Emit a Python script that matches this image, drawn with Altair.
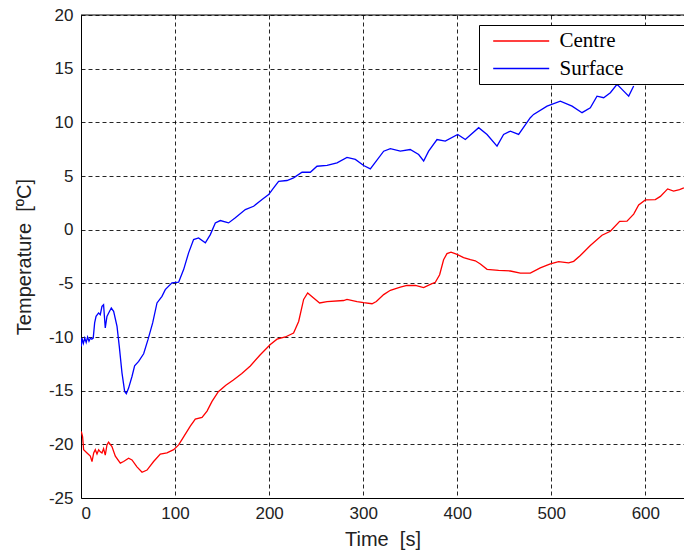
import altair as alt
import pandas as pd

# ---- data ----
t_centre = [0.3, 1.7, 2.8, 6.4, 9.9, 11.7, 13.5, 15.2, 17, 18.8, 20.5, 22.3, 24, 25.8, 27.6, 29.3,
            32.9, 36.5, 41.8, 45.3, 50.6, 54.2, 59.5, 64.9, 70.2, 77.2, 84.3, 91.4, 98.5, 103.8,
            109.1, 116.2, 121.5, 128.7, 134, 139.3, 146, 154, 162, 171, 180, 190.6, 201.3, 208.4,
            217.2, 226, 231.4, 236.7, 241, 247.3, 253.7, 261.6, 279.2, 282.8, 293.5, 300.5, 309.4,
            314, 321.8, 328.9, 339.5, 346.6, 355.5, 364.3, 371.4, 376.7, 381.3, 385.5, 389.1, 393.4,
            399.8, 406.8, 414, 419.2, 424.6, 431.7, 444, 456.5, 467.1, 477.7, 488.3, 499, 507.8,
            518.4, 523.8, 530.9, 541.5, 553.9, 562.8, 572.7, 580.5, 587.6, 592.9, 600, 610.6, 616,
            623.7, 630, 636.4, 641]
v_centre = [-18.8, -19.3, -20.5, -20.8, -21.1, -21.6, -20.8, -20.5, -20.9, -20.5, -20.7, -20.8,
            -20.4, -21.0, -20.05, -19.8, -20.2, -21.1, -21.75, -21.6, -21.3, -21.45, -22.1, -22.6,
            -22.4, -21.6, -20.9, -20.8, -20.5, -20.05, -19.3, -18.3, -17.65, -17.5, -16.9, -16.0,
            -15.1, -14.5, -14.0, -13.4, -12.7, -11.65, -10.7, -10.2, -10.0, -9.63, -8.55, -6.5,
            -5.9, -6.37, -6.83, -6.7, -6.6, -6.5, -6.7, -6.8, -6.9, -6.7, -6.05, -5.65, -5.35, -5.2,
            -5.2, -5.4, -5.1, -4.9, -4.2, -2.8, -2.23, -2.1, -2.3, -2.6, -2.8, -2.9, -3.2, -3.7,
            -3.8, -3.85, -4.05, -4.05, -3.56, -3.18, -2.97, -3.1, -2.95, -2.4, -1.48, -0.52, -0.15,
            0.78, 0.8, 1.45, 2.3, 2.77, 2.8, 3.1, 3.8, 3.6, 3.74, 3.9]

t_surface = [0.3, 1, 2.5, 4, 5.5, 7, 8.5, 10, 11.5, 13, 14.5, 16, 18.7, 20.5, 22.3, 24, 25.8, 27.6,
             29.4, 32.2, 34.7, 38.3, 40.7, 43.6, 46.4, 48.2, 50.6, 54.2, 57, 61.3, 66.6, 71.2,
             76.2, 80.8, 86.1, 89.6, 96.7, 103.8, 109.1, 114.4, 119.7, 125, 132.2, 137.5, 142.8,
             148.1, 156.9, 164.1, 174.7, 183.5, 192.5, 199.5, 204.8, 210.1, 219, 226, 235, 243.8,
             250.9, 261.6, 272.2, 282.8, 291.7, 300.5, 307.6, 321.8, 328.9, 339.5, 350, 359, 364.3,
             369.6, 378.5, 387.3, 400.5, 408.6, 422.8, 431.7, 442.3, 449.3, 456.5, 465.3, 477.7,
             481.2, 495.5, 509.6, 522.1, 532.7, 541.5, 548.6, 555.7, 562.8, 569.9, 575.2, 582.3,
             587.6]
v_surface = [-10.88, -10.09, -10.6, -10.1, -10.5, -10.0, -10.4, -10.1, -10.2, -10.1, -8.69, -8.08,
             -7.76, -7.92, -7.15, -6.99, -9.16, -8.08, -7.76, -7.3, -7.61, -9.01, -10.88, -13.36,
             -15.07, -15.29, -14.76, -13.68, -12.68, -12.28, -11.56, -10.25, -8.69, -6.83, -6.21,
             -5.59, -4.96, -4.9, -3.72, -2.16, -0.92, -0.77, -1.23, -0.46, 0.63, 0.85, 0.63, 1.1,
             1.87, 2.18, 2.81, 3.27, 3.9, 4.51, 4.58, 4.83, 5.35, 5.35, 5.91, 5.98, 6.23, 6.73,
             6.54, 5.98, 5.67, 7.31, 7.54, 7.31, 7.47, 7.0, 6.4, 7.31, 8.4, 8.25, 8.87, 8.4, 9.5,
             8.87, 7.78, 8.87, 9.18, 8.87, 10.43, 10.74, 11.51, 11.98, 11.51, 10.9, 11.36, 12.44,
             12.29, 12.76, 13.54, 13.07, 12.44, 13.38]

series_names = ["Centre", "Surface"]
series_colors = ["#ff0000", "#0000ff"]
x_ticks = [0, 100, 200, 300, 400, 500, 600]
y_ticks = [-25, -20, -15, -10, -5, 0, 5, 10, 15, 20]
x_max = 641.1
NBSP = "\u00a0"
ZWSP = "\u200b"

df = pd.concat([
    pd.DataFrame({"t": t_centre, "v": v_centre, "series": series_names[0]}),
    pd.DataFrame({"t": t_surface, "v": v_surface, "series": series_names[1]}),
], ignore_index=True)

xscale = alt.Scale(domain=[0, x_max], nice=False, zero=False)
yscale = alt.Scale(domain=[-25, 20], nice=False, zero=False)

# legend box runs past the right edge of the picture, as in the reference
legend = alt.Legend(
    title=None, orient="none", legendX=398, legendY=10,
    symbolType="M-0.225,0H6.775", symbolSize=256, symbolStrokeWidth=1.3,
    labelFont="Liberation Serif", labelFontSize=21, labelColor="black",
    labelOffset=54, rowPadding=5.5, labelLimit=0,
    strokeColor="black", fillColor="white", padding=5.5,
    labelExpr="datum.label + '" + NBSP * 11 + ZWSP + "'",
)

lines = alt.Chart(df).mark_line(strokeWidth=1.3, clip=True).encode(
    x=alt.X("t:Q", scale=xscale,
            axis=alt.Axis(values=x_ticks, title="Time" + NBSP * 2 + "[s]", labelPadding=7,
                          titlePadding=8, labelExpr="datum.value + ''")),
    y=alt.Y("v:Q", scale=yscale,
            axis=alt.Axis(values=y_ticks, title="Temperature" + NBSP * 2 + "[ºC]",
                          labelPadding=8, titlePadding=14, labelExpr="datum.value + ''")),
    color=alt.Color("series:N",
                    scale=alt.Scale(domain=series_names, range=series_colors),
                    legend=legend),
)

top = alt.Chart(pd.DataFrame({"y": [20]})).mark_rule(color="black", strokeWidth=1).encode(
    y=alt.Y("y:Q", scale=yscale), x=alt.datum(0), x2=alt.datum(x_max)
)

chart = alt.layer(lines, top).properties(
    width=603, height=483,
    padding={"left": 81, "top": 15, "right": 0, "bottom": 55},
    autosize=alt.AutoSizeParams(type="none"),
    background="white",
).configure_view(stroke=None).configure_axis(
    domainColor="black", domainWidth=1, ticks=False,
    gridColor="black", gridDash=[4, 3], gridOpacity=0.85, gridWidth=1,
    labelFont="Liberation Sans", labelFontSize=17, labelColor="#222",
    titleFont="Liberation Sans", titleFontSize=20, titleFontWeight="normal", titleColor="#222",
)

chart.save("out.html", embed_options={"renderer": "svg", "actions": False})
